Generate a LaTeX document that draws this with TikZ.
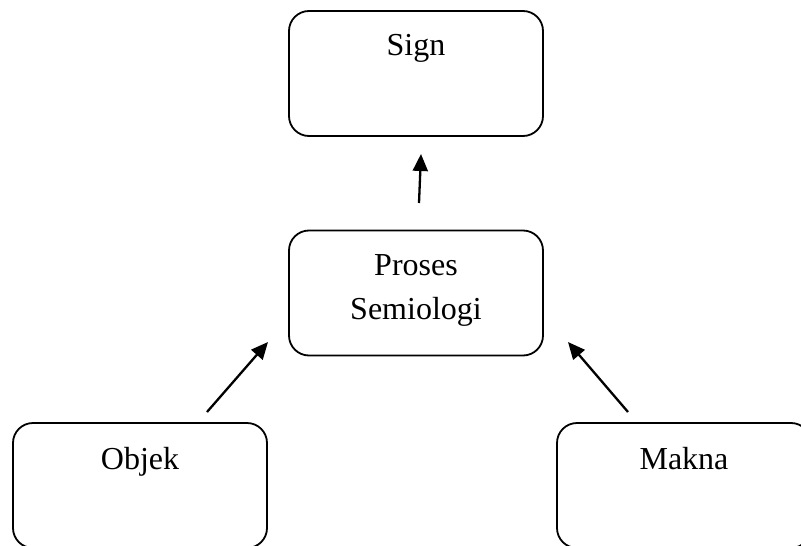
\documentclass[tikz,border=0pt]{standalone}
\usepackage{fontspec}
\setmainfont{Liberation Serif}
\usetikzlibrary{arrows.meta}
\tikzset{
  box/.style={draw, line width=1.8pt, rounded corners=20pt, minimum width=254pt, minimum height=125pt, inner sep=0pt},
  lbl/.style={anchor=base, inner sep=0pt, font=\fontsize{32}{44}\selectfont},
  arr/.style={line width=2.3pt, -{Triangle[length=17pt,width=15pt]}}
}
\begin{document}
\begin{tikzpicture}[x=1pt,y=-1pt]
\useasboundingbox (0,0) rectangle (801,546);
\node[box] (sign) at (416,73.5) {};
\node[box] (proses) at (416,293) {};
\node[box] (objek) at (140,485.5) {};
\node[box] (makna) at (684,485.5) {};
\node[lbl] (tsign) at (416,55) {Sign};
\node[lbl] (tproses) at (416,275) {Proses};
\node[lbl] (tsemiologi) at (416,319) {Semiologi};
\node[lbl] (tobjek) at (140,469) {Objek};
\node[lbl] (tmakna) at (684,469) {Makna};
\coordinate (a1s) at (419,203);
\coordinate (a1e) at (421,154);
\coordinate (a2s) at (207,412);
\coordinate (a2e) at (268,342);
\coordinate (a3s) at (628,412);
\coordinate (a3e) at (568,342);
\draw[arr] (a1s) -- (a1e);
\draw[arr] (a2s) -- (a2e);
\draw[arr] (a3s) -- (a3e);
\end{tikzpicture}
\end{document}
